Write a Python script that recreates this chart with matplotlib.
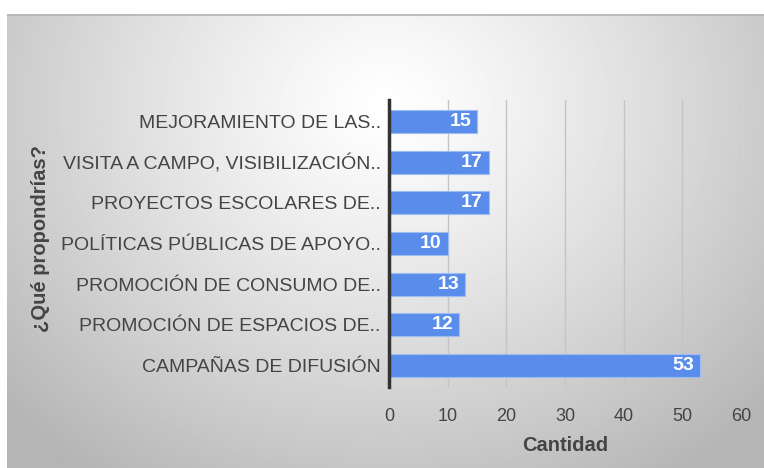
import numpy as np
import matplotlib
matplotlib.use('Agg')
import matplotlib.pyplot as plt

plt.rcParams['font.family'] = ['Liberation Sans', 'DejaVu Sans']

categories = [
    'CAMPAÑAS DE DIFUSIÓN',
    'PROMOCIÓN DE ESPACIOS DE..',
    'PROMOCIÓN DE CONSUMO DE..',
    'POLÍTICAS PÚBLICAS DE APOYO..',
    'PROYECTOS ESCOLARES DE..',
    'VISITA A CAMPO, VISIBILIZACIÓN..',
    'MEJORAMIENTO DE LAS..',
]
values = [53, 12, 13, 10, 17, 17, 15]
xticks = [0, 10, 20, 30, 40, 50, 60]

W, H = 764, 468
fig = plt.figure(figsize=(W / 100, H / 100), dpi=100)
fig.patch.set_facecolor('white')

# gradient panel behind the chart
bg = fig.add_axes([7 / W, 0, 1 - 7 / W, 1 - 14 / H])
yy, xx = np.mgrid[0:300, 0:500]
cx, cy = 250, 60
d = np.sqrt(((xx - cx) / 310.0) ** 2 + ((yy - cy) / 270.0) ** 2)
d = np.clip(d, 0, 1.1)
shade = 1.0 - 0.26 * d ** 1.2
bg.imshow(shade, cmap='gray', vmin=0, vmax=1, aspect='auto', origin='upper',
          extent=[0, 1, 0, 1])
bg.set_xlim(0, 1)
bg.set_ylim(0, 1)
bg.set_xticks([])
bg.set_yticks([])
for s in bg.spines.values():
    s.set_visible(False)
bg.axhline(1, color='#b8b8b8', lw=2)

ax = fig.add_axes([389 / W, 1 - 387 / H, (741 - 389) / W, (387 - 100) / H])
ax.patch.set_alpha(0)
y = np.arange(len(categories))
bars = ax.barh(y, values, height=0.56, color='#5a8deb', edgecolor='#9dbcf3',
               linewidth=0.8, zorder=3)
for b, v in zip(bars, values):
    ax.text(v - 1.0, b.get_y() + b.get_height() / 2, str(v), ha='right',
            va='center', color='white', fontsize=14, fontweight='bold', zorder=4)

ax.set_xlim(0, 60)
ax.set_ylim(-0.53, len(categories) - 0.47)
ax.set_xticks(xticks)
ax.set_yticks(y)
ax.set_yticklabels(categories)
ax.tick_params(axis='y', length=0, labelsize=14, colors='#444444', pad=6)
ax.tick_params(axis='x', length=0, labelsize=13, colors='#444444', pad=15)
ax.grid(axis='x', color='#c4c4c4', lw=1, zorder=1)
for s in ['top', 'right', 'bottom']:
    ax.spines[s].set_visible(False)
ax.spines['left'].set_color('#333333')
ax.spines['left'].set_linewidth(2.5)
ax.spines['left'].set_zorder(5)

ax.set_xlabel('Cantidad', fontsize=14.5, fontweight='bold', color='#444444', labelpad=8)
fig.text(41 / W, 1 - 239 / H, '¿Qué propondrías?', rotation=90, ha='center',
         va='center', fontsize=14.5, fontweight='bold', color='#444444')

fig.savefig('out.png', dpi=100)
